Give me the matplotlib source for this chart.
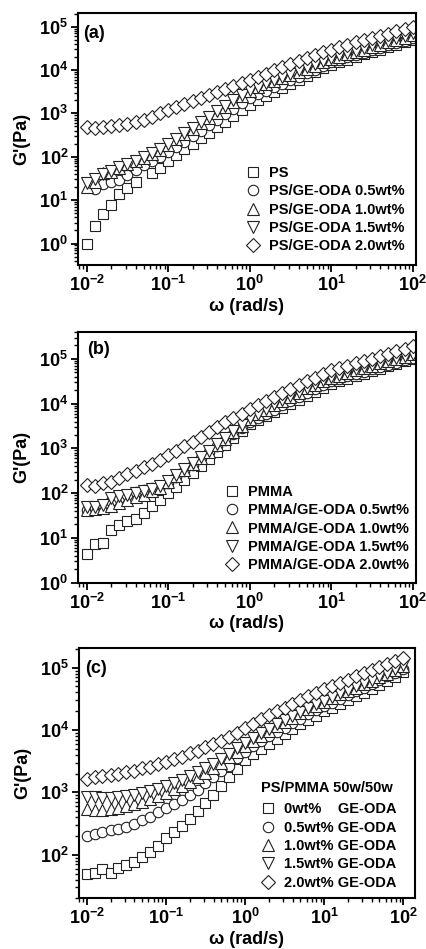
import numpy as np
import matplotlib
matplotlib.use("Agg")
import matplotlib.pyplot as plt
from matplotlib.ticker import LogLocator, FuncFormatter, NullFormatter

plt.rcParams['font.family'] = ['Liberation Sans', 'DejaVu Sans']
plt.rcParams['font.weight'] = 'bold'
plt.rcParams['mathtext.fontset'] = 'custom'
plt.rcParams['mathtext.rm'] = 'Liberation Sans:bold'
plt.rcParams['mathtext.bf'] = 'Liberation Sans:bold'
plt.rcParams['mathtext.default'] = 'rm'

nan = np.nan

# angular frequency (rad/s), 10 points per decade
omega = [0.01, 0.0126, 0.0158, 0.02, 0.0251, 0.0316, 0.0398, 0.0501, 0.0631, 0.0794,
         0.1, 0.126, 0.158, 0.2, 0.251, 0.316, 0.398, 0.501, 0.631, 0.794,
         1, 1.26, 1.58, 2, 2.51, 3.16, 3.98, 5.01, 6.31, 7.94,
         10, 12.6, 15.8, 20, 25.1, 31.6, 39.8, 50.1, 63.1, 79.4, 100]

# (a) PS and PS/GE-ODA, G' (Pa)
ps_a = [1.0, 2.6, 4.7, 7.9, 14, 19, 26, nan, 43, 54, 81, 110, 148, 200, 269, 363, 479, 646, 871, 1175,
        1585, 1995, 2512, 3162, 3890, 4786, 5888, 7244, 8913, 10960, 13180, 15140, 17380, 19950,
        22910, 26300, 29510, 33880, 38020, 43650, 50120]
ps05_a = [nan, 17.8, 23.4, 26.3, 28.8, 38, 50.1, 63.1, 79.4, 100, 126, 170, 224, 302, 398, 537, 708, 955,
          1259, 1698, 2239, 2754, 3311, 3981, 4786, 5888, 7079, 8511, 10230, 12590, 15140, 17380,
          19500, 22390, 25120, 28840, 32360, 37150, 41690, 47860, 53700]
ps10_a = [20, 26.3, 41.7, 45.7, 55, 67.6, 79.4, 95.5, 115, 141, 186, 251, 331, 447, 589, 794, 1047, 1413,
          1862, 2512, 3311, 3981, 4677, 5495, 6457, 7762, 9120, 10720, 12590, 15140, 17780, 20420,
          22910, 26300, 29510, 33880, 38020, 43650, 48980, 56230, 63100]
ps15_a = [25.1, 30.2, 39.8, 47.9, 57.5, 69.2, 79.4, 100, 120, 151, 195, 263, 355, 468, 631, 832, 1122,
          1479, 1995, 2630, 3548, 4169, 5012, 5888, 6918, 8318, 9772, 11480, 13490, 16220, 19050,
          21880, 25120, 28180, 32360, 37150, 41690, 47860, 54950, 61660, 70790]
ps20_a = [490, 457, 490, 513, 537, 575, 631, 724, 832, 1000, 1202, 1413, 1660, 1950, 2291, 2692, 3162,
          3715, 4365, 5129, 6026, 7079, 8318, 9772, 11480, 13490, 15850, 18620, 21880, 25700, 29510,
          33880, 38020, 43650, 48980, 54950, 61660, 69180, 77620, 87100, 97720]

# (b) PMMA and PMMA/GE-ODA
pm_b = [4.3, 7.4, 7.9, 15.1, 19.1, 23.4, 26.3, 35.5, 52.5, 69.2, 100, 138, 200, 282, 398, 575, 832, 1202,
        1738, 2512, 3548, 4365, 5370, 6607, 8128, 10000, 12300, 15140, 18620, 22910, 28180, 32360,
        36310, 41690, 46770, 53700, 60260, 69180, 77620, 89130, 100000]
pm05_b = [41.7, 45.7, 55, 66.1, 79.4, 93.3, 107, 120, 132, 148, 170, 234, 316, 437, 603, 832, 1122, 1549,
          2138, 2884, 3981, 4898, 6026, 7413, 9120, 11220, 13800, 16980, 20890, 25700, 31620, 35480,
          40740, 45710, 51290, 58880, 66070, 74130, 83180, 95500, 107200]
pm10_b = [42.7, 43.7, 46.8, 52.5, 60.3, 69.2, 81.3, 93.3, 110, 132, 178, 240, 324, 447, 617, 851, 1175,
          1622, 2291, 3236, 4467, 5754, 7413, 9333, 11750, 14450, 17780, 21880, 26300, 31620, 37150,
          42660, 48980, 56230, 63100, 70790, 79430, 89130, 100000, 112200, 125900]
pm15_b = [50.1, 50.1, 53.7, 79.4, 85.1, 91.2, 100, 110, 126, 148, 186, 251, 339, 468, 646, 891, 1230,
          1698, 2399, 3388, 4677, 6026, 7762, 9772, 12300, 15140, 18620, 22910, 27540, 33110, 38900,
          44670, 51290, 58880, 66070, 74130, 83180, 93330, 104700, 117500, 131800]
pm20_b = [151, 145, 166, 182, 219, 263, 316, 380, 457, 562, 708, 891, 1122, 1413, 1820, 2344, 3020, 3802,
          4786, 6026, 7586, 9333, 11480, 14130, 17380, 21380, 26300, 31620, 38020, 46770, 56230, 63100,
          70790, 79430, 91200, 102300, 114800, 131800, 147900, 166000, 190500]

# (c) PS/PMMA 50w/50w blends
bl00_c = [49, 51.3, 58.9, 51.3, 61.7, 69.2, 75.9, 91.2, 112, 138, 186, 229, 288, 380, 501, 676, 912, 1259,
          1738, 2399, 3311, 4169, 5012, 6026, 7244, 8710, 10470, 12300, 14450, 16980, 19950, 22910,
          26300, 30200, 34670, 39810, 45710, 52480, 60260, 70790, 85110]
bl05_c = [200, 214, 229, 245, 257, 275, 316, 355, 398, 479, 562, 661, 759, 912, 1096, 1413, 1738, 2188,
          2692, 3548, 4467, 5495, 6607, 7943, 9333, 10960, 12880, 15140, 17780, 20890, 23990, 27540,
          31620, 36310, 41690, 47860, 54950, 63100, 72440, 83180, 95500]
bl10_c = [550, 525, 525, 537, 562, 603, 646, 708, 776, 871, 977, 1122, 1288, 1479, 1738, 2042, 2455, 2951,
          3631, 4467, 5495, 6761, 8128, 9772, 11480, 13490, 15850, 18620, 21380, 24550, 28180, 32360,
          37150, 41690, 47860, 54950, 61660, 70790, 79430, 91200, 104700]
bl15_c = [832, 832, 813, 813, 832, 871, 912, 977, 1047, 1148, 1259, 1413, 1585, 1820, 2089, 2455, 2884,
          3467, 4169, 5129, 6166, 7413, 8913, 10470, 12300, 14450, 16980, 19500, 22390, 25700, 29510,
          33880, 38900, 43650, 50120, 57540, 64570, 74130, 83180, 95500, 109600]
bl20_c = [1622, 1738, 1820, 1905, 1995, 2138, 2239, 2455, 2570, 2818, 3090, 3388, 3715, 4266, 4677, 5248,
          6026, 6761, 7762, 8913, 10720, 12590, 14790, 17380, 19950, 22910, 26300, 30200, 34670, 39810,
          45710, 51290, 57540, 64570, 72440, 81280, 91200, 102300, 114800, 128800, 144500]

labels_a = ['PS', 'PS/GE-ODA 0.5wt%', 'PS/GE-ODA 1.0wt%', 'PS/GE-ODA 1.5wt%', 'PS/GE-ODA 2.0wt%']
labels_b = ['PMMA', 'PMMA/GE-ODA 0.5wt%', 'PMMA/GE-ODA 1.0wt%', 'PMMA/GE-ODA 1.5wt%', 'PMMA/GE-ODA 2.0wt%']
labels_c = ['0wt%    GE-ODA', '0.5wt% GE-ODA', '1.0wt% GE-ODA', '1.5wt% GE-ODA', '2.0wt% GE-ODA']

markers = ['s', 'o', '^', 'v', 'D']
msizes = [7, 7.5, 8.5, 8.5, 6.8]


def log_label(v, pos):
    e = int(round(np.log10(v)))
    return r'$10^{%d}$' % e


fig = plt.figure(figsize=(4.26, 9.49), dpi=100)

panels = [
    dict(rect=[0.183, 0.7208, 0.793, 0.2655], data=[ps_a, ps05_a, ps10_a, ps15_a, ps20_a],
         labels=labels_a, xlim=(0.0078, 109), ylim=(0.32, 2.07e5), tag='(a)', tagpos=(0.015, 0.92),
         leg=(0.496, 0.393)),
    dict(rect=[0.183, 0.386, 0.793, 0.2645], data=[pm_b, pm05_b, pm10_b, pm15_b, pm20_b],
         labels=labels_b, xlim=(0.0078, 109), ylim=(1, 4.07e5), tag='(b)', tagpos=(0.026, 0.93),
         leg=(0.434, 0.39)),
    dict(rect=[0.1847, 0.0534, 0.789, 0.2634], data=[bl00_c, bl05_c, bl10_c, bl15_c, bl20_c],
         labels=labels_c, xlim=(0.0079, 140), ylim=(20, 2.04e5), tag='(c)', tagpos=(0.019, 0.92),
         leg=(0.542, 0.384)),
]

for p in panels:
    ax = fig.add_axes(p['rect'])
    for ys, lab, m, ms in zip(p['data'], p['labels'], markers, msizes):
        ax.plot(omega, ys, ls='none', marker=m, ms=ms, mfc='white', mec='#222222', mew=0.8, label=lab)
    ax.set_xscale('log')
    ax.set_yscale('log')
    ax.set_xlim(*p['xlim'])
    ax.set_ylim(*p['ylim'])
    for axis in (ax.xaxis, ax.yaxis):
        axis.set_major_locator(LogLocator(base=10, numticks=20))
        axis.set_minor_locator(LogLocator(base=10, subs=np.arange(2, 10), numticks=20))
        axis.set_major_formatter(FuncFormatter(log_label))
        axis.set_minor_formatter(NullFormatter())
    for s in ax.spines.values():
        s.set_linewidth(1.5)
    ax.tick_params(which='major', direction='out', length=5, width=1.3, labelsize=13, pad=2)
    ax.tick_params(which='minor', direction='out', length=3, width=1.0)
    ax.set_xlabel('ω (rad/s)', fontsize=13, fontweight='bold', labelpad=2)
    ax.set_ylabel("G'(Pa)", fontsize=13, fontweight='bold', labelpad=6)
    ax.text(p['tagpos'][0], p['tagpos'][1], p['tag'], transform=ax.transAxes, fontsize=13,
            fontweight='bold', va='center', ha='left')
    ax.legend(loc='upper left', bbox_to_anchor=p['leg'], frameon=False,
              handlelength=1.0, handletextpad=0.6, borderpad=0, borderaxespad=0, labelspacing=0.3,
              prop={'weight': 'bold', 'size': 10.5})
    if p['tag'] == '(c)':
        ax.text(0.543, 0.44, 'PS/PMMA 50w/50w', transform=ax.transAxes, fontsize=10.5,
                fontweight='bold', va='center', ha='left')

fig.savefig('out.png', dpi=100)
